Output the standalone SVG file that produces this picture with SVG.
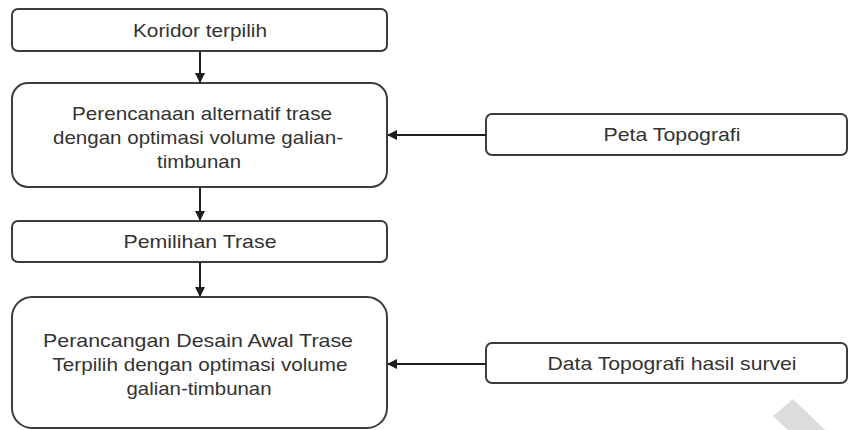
<svg xmlns="http://www.w3.org/2000/svg" width="849" height="430" viewBox="0 0 849 430">
  <style>
    .box { fill: #ffffff; stroke: #3c3c3c; stroke-width: 2; }
    .lbl { font-family: "Liberation Sans", Arial, sans-serif; font-size: 19px; fill: #333333; text-anchor: middle; }
    .conn { stroke: #1e1e1e; stroke-width: 2; fill: none; marker-end: url(#arrow); }
  </style>
  <defs>
    <marker id="arrow" viewBox="0 0 10 10" refX="9" refY="5" markerWidth="5" markerHeight="5" orient="auto" markerUnits="strokeWidth">
      <path d="M0,0 L10,5 L0,10 z" fill="#1e1e1e"/>
    </marker>
  </defs>
  <rect width="849" height="430" fill="#ffffff"/>

  <!-- flow steps -->
  <g id="koridor">
    <rect class="box" x="12" y="9" width="375" height="42" rx="6"/>
    <text class="lbl" x="200" y="37" textLength="134" lengthAdjust="spacingAndGlyphs">Koridor terpilih</text>
  </g>
  <g id="perencanaan">
    <rect class="box" x="12" y="83" width="375" height="104" rx="16"/>
    <text class="lbl" x="202" y="120" textLength="260" lengthAdjust="spacingAndGlyphs">Perencanaan alternatif trase</text>
    <text class="lbl" x="198" y="144" textLength="290" lengthAdjust="spacingAndGlyphs">dengan optimasi volume galian-</text>
    <text class="lbl" x="199" y="168" textLength="84" lengthAdjust="spacingAndGlyphs">timbunan</text>
  </g>
  <g id="peta">
    <rect class="box" x="486" y="114" width="361" height="41" rx="6"/>
    <text class="lbl" x="672" y="141" textLength="137" lengthAdjust="spacingAndGlyphs">Peta Topografi</text>
  </g>
  <g id="pemilihan">
    <rect class="box" x="12" y="221" width="375" height="41" rx="6"/>
    <text class="lbl" x="200" y="248" textLength="153" lengthAdjust="spacingAndGlyphs">Pemilihan Trase</text>
  </g>
  <g id="perancangan">
    <rect class="box" x="12" y="297" width="375" height="131" rx="20"/>
    <text class="lbl" x="198" y="347" textLength="310" lengthAdjust="spacingAndGlyphs">Perancangan Desain Awal Trase</text>
    <text class="lbl" x="200" y="371" textLength="295" lengthAdjust="spacingAndGlyphs">Terpilih dengan optimasi volume</text>
    <text class="lbl" x="199" y="395" textLength="145" lengthAdjust="spacingAndGlyphs">galian-timbunan</text>
  </g>
  <g id="data-survei">
    <rect class="box" x="486" y="343" width="361" height="40" rx="6"/>
    <text class="lbl" x="672" y="370" textLength="249" lengthAdjust="spacingAndGlyphs">Data Topografi hasil survei</text>
  </g>

  <!-- connectors -->
  <g id="connectors">
    <line class="conn" x1="200" y1="51" x2="200" y2="82"/>
    <line class="conn" x1="200" y1="187" x2="200" y2="220"/>
    <line class="conn" x1="200" y1="262" x2="200" y2="296"/>
    <line class="conn" x1="486" y1="135" x2="388" y2="135"/>
    <line class="conn" x1="486" y1="364" x2="388" y2="364"/>
  </g>

  <!-- light grey corner mark -->
  <polygon points="793,399 825,430 788,430 773,416" fill="#dcdcdc"/>
</svg>
